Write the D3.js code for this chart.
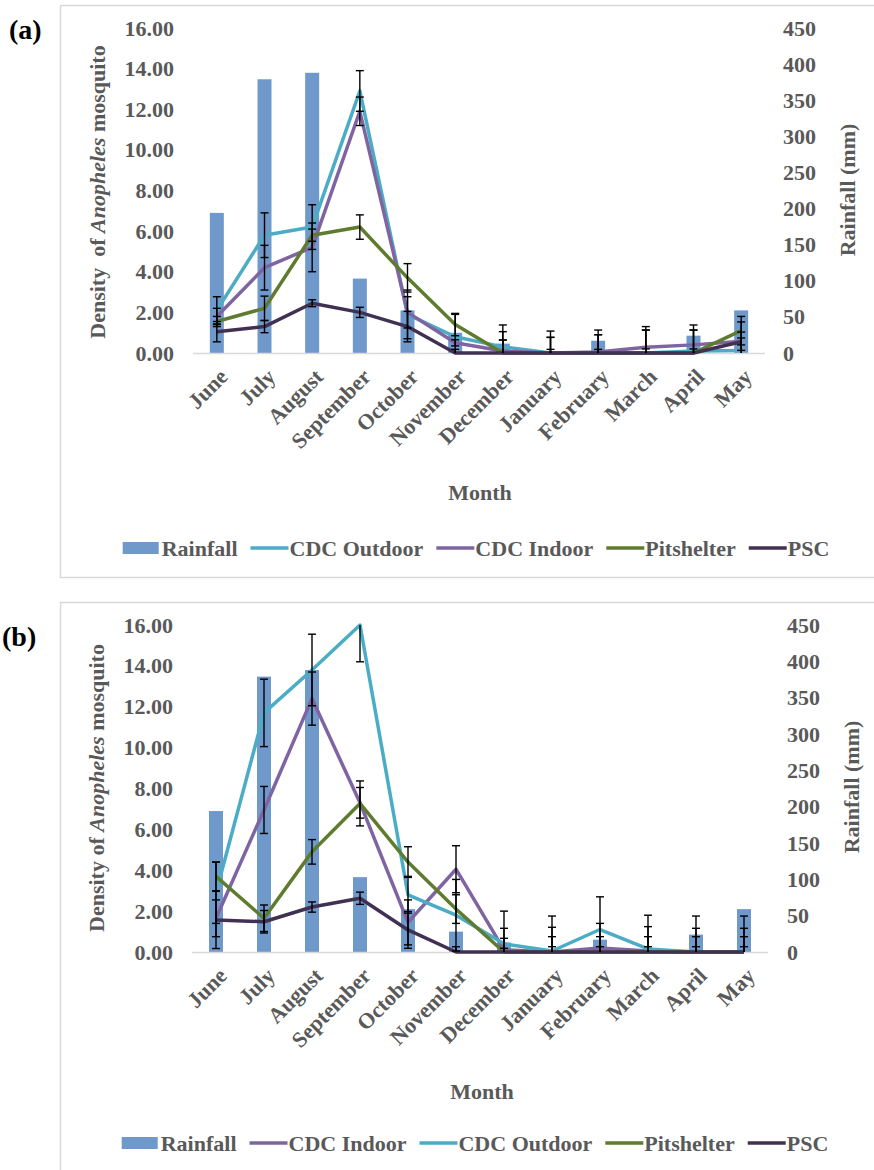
<!DOCTYPE html>
<html>
<head>
<meta charset="utf-8">
<script src="https://cdn.jsdelivr.net/npm/d3@7"></script>
<style>
  body { margin: 0; background: #fff; }
  svg text { font-family: "Liberation Serif", "Times New Roman", serif; font-weight: bold; }
</style>
</head>
<body>
<div id="chart"></div>
<script>
// months on the x axis
const months = ["June", "July", "August", "September", "October", "November",
  "December", "January", "February", "March", "April", "May"];

// monthly rainfall (mm), same in both panels
const rainfall = [194, 379, 388, 103, 59, 28, 13, 0, 17, 1, 24, 59];

// tick labels
const densityTicks = [0, 2, 4, 6, 8, 10, 12, 14, 16];
const rainTicks = [0, 50, 100, 150, 200, 250, 300, 350, 400, 450];

// panel (a) densities and error values
const outdoorA = [2.1, 5.8, 6.2, 12.9, 1.9, 0.8, 0.3, 0, 0, 0, 0.1, 0.12];
const indoorA = [1.8, 4.2, 5.2, 11.9, 2.0, 0.5, 0.1, 0, 0.05, 0.28, 0.4, 0.58];
const pitA = [1.55, 2.2, 5.8, 6.2, 3.7, 1.4, 0, 0, 0, 0, 0, 1.1];
const pscA = [1.05, 1.3, 2.45, 2.0, 1.3, 0, 0, 0, 0, 0, 0, 0.55];
const errOutdoorA = [0.67, 1.1, 1.1, 1.0, 1.2, 1.1, 1.08, 1.08, 1.13, 1.3, 1.28, 0.62];
const errIndoorA = [0.4, 1.1, 1.2, 0.7, 0.77, 0.15, 0.95, 0.77, 0.85, 0.85, 0.73, 0.45];
const errPitA = [0.25, 0.6, 0.3, 0.6, 0.7, 0.55, 0.64, 0.18, 0.18, 0.2, 0.2, 0.7];
const errPscA = [0.5, 0.3, 0.17, 0.25, 0.75, 0.18, 0.64, 0.77, 0.9, 1.13, 1.13, 0.98];

// panel (b) densities and error values
const outdoorB = [2.9, 11.7, 13.8, 16.0, 2.8, 1.8, 0.4, 0.05, 1.1, 0.15, 0, 0];
const indoorB = [1.65, 6.95, 12.4, 7.3, 1.45, 4.05, 0.1, 0, 0.2, 0.05, 0, 0];
const pitB = [3.7, 1.65, 4.9, 7.27, 4.4, 2.1, 0, 0, 0, 0, 0, 0];
const pscB = [1.57, 1.48, 2.2, 2.63, 1.08, 0, 0, 0, 0, 0, 0, 0];
const errOutdoorB = [1.5, 1.65, 1.75, 1.8, 0.9, 1.75, 1.6, 1.71, 1.6, 1.65, 1.76, 1.76];
const errIndoorB = [0.9, 1.15, 1.3, 0.75, 1.1, 1.15, 1.06, 1.21, 1.2, 1.19, 1.16, 1.16];
const errPitB = [0.7, 0.65, 0.6, 1.1, 0.75, 0.7, 0.67, 0.75, 0.75, 0.75, 0.75, 0.75];
const errPscB = [1.4, 0.55, 0.25, 0.3, 0.9, 0.26, 0.18, 0.26, 0.26, 0.26, 0.26, 0.26];

const COLORS = {
    rain: "#7099CB",
    outdoor: "#4BACC6",
    indoor: "#8064A2",
    pit: "#5E7B2E",
    psc: "#403152",
    text: "#595959",
    grid: "#D9D9D9"
};
const FONT = "22px";

const svg = d3.select("#chart").append("svg")
    .attr("width", 874)
    .attr("height", 1170)
    .attr("font-family", "Liberation Serif, Times New Roman, serif");

const drawPanel = (p) => {
    const g = svg.append("g");

    // light frame around the panel
    g.append("rect")
        .attr("x", 60.5).attr("y", p.frameY + 0.5)
        .attr("width", 900).attr("height", p.frameH)
        .attr("fill", "none").attr("stroke", COLORS.grid).attr("stroke-width", 1.5);

    g.append("text")
        .attr("x", p.tagX).attr("y", p.tagY)
        .style("font-size", "28px").attr("fill", "#000")
        .text(p.tag);

    const x = d3.scaleBand().domain(months).range([p.x0, p.x1]);
    const cx = (m) => x(m) + x.bandwidth() / 2;
    const yL = d3.scaleLinear().domain([0, 16]).range([p.yBase, p.yTop]);
    const yR = d3.scaleLinear().domain([0, 450]).range([p.yBase, p.yTop]);

    // rainfall bars
    g.selectAll(".bar")
        .data(months)
        .enter()
        .append("rect")
        .attr("x", (d) => cx(d) - 7)
        .attr("width", 14)
        .attr("y", (d, i) => yR(rainfall[i]))
        .attr("height", (d, i) => p.yBase - yR(rainfall[i]))
        .attr("fill", COLORS.rain);

    // baseline
    g.append("line")
        .attr("x1", p.x0).attr("x2", p.x1)
        .attr("y1", p.yBase + 0.5).attr("y2", p.yBase + 0.5)
        .attr("stroke", COLORS.grid).attr("stroke-width", 1.5);

    const line = d3.line()
        .x((d, i) => cx(months[i]))
        .y((d) => yL(d));

    p.series.forEach(s => {
        g.append("path")
            .datum(s.values)
            .attr("d", line)
            .attr("fill", "none")
            .attr("stroke", COLORS[s.key])
            .attr("stroke-width", 3.5)
            .attr("stroke-linejoin", "round");
    });

    // error bars, clipped to the axis range like Excel does
    p.series.forEach(s => {
        s.values.forEach((v, i) => {
            const e = s.err[i];
            const lo = Math.max(0, v - e);
            const hi = Math.min(16, v + e);
            const xm = cx(months[i]);
            g.append("line")
                .attr("x1", xm).attr("x2", xm)
                .attr("y1", yL(lo)).attr("y2", yL(hi))
                .attr("stroke", "#000").attr("stroke-width", 1.4);
            const caps = [];
            if (v + e <= 16) caps.push(hi);
            if (v - e >= 0) caps.push(lo);
            caps.forEach(c => {
                g.append("line")
                    .attr("x1", xm - 4).attr("x2", xm + 4)
                    .attr("y1", yL(c)).attr("y2", yL(c))
                    .attr("stroke", "#000").attr("stroke-width", 1.4);
            });
        });
    });

    // left axis
    const left = g.append("g")
        .attr("transform", `translate(${p.x0},0)`)
        .call(d3.axisLeft(yL).tickValues(densityTicks).tickFormat(d3.format(".2f")).tickSize(0).tickPadding(19));
    left.select(".domain").remove();
    left.selectAll("text")
        .style("font-size", FONT)
        .attr("fill", COLORS.text);

    // right axis
    const right = g.append("g")
        .attr("transform", `translate(${p.x1},0)`)
        .call(d3.axisRight(yR).tickValues(rainTicks).tickSize(0).tickPadding(p.rightPad));
    right.select(".domain").remove();
    right.selectAll("text")
        .style("font-size", FONT)
        .attr("fill", COLORS.text);

    // rotated month labels
    g.selectAll(".month")
        .data(months)
        .enter()
        .append("text")
        .attr("text-anchor", "end")
        .attr("transform", (d) => `translate(${cx(d) + 1},${p.yBase + 14}) rotate(-45)`)
        .attr("dy", "0.72em")
        .style("font-size", FONT)
        .attr("fill", COLORS.text)
        .text((d) => d);

    g.append("text")
        .attr("x", p.monthX).attr("y", p.monthY)
        .attr("text-anchor", "middle")
        .style("font-size", FONT)
        .attr("fill", COLORS.text)
        .text("Month");

    // left title with italic genus name
    const lt = g.append("text")
        .attr("transform", `translate(${p.leftTitleX},${p.leftTitleY}) rotate(-90)`)
        .attr("text-anchor", "middle")
        .style("font-size", FONT)
        .style("white-space", "pre")
        .attr("fill", COLORS.text);
    lt.append("tspan").text(p.densityLabel);
    lt.append("tspan").style("font-style", "italic").text("Anopheles");
    lt.append("tspan").text(" mosquito");

    g.append("text")
        .attr("transform", `translate(${p.rightTitleX},${p.rightTitleY}) rotate(-90)`)
        .attr("text-anchor", "middle")
        .style("font-size", FONT)
        .attr("fill", COLORS.text)
        .text("Rainfall (mm)");

    // legend, laid out left to right then centred
    const leg = g.append("g");
    let pos = 0;
    p.legend.forEach(item => {
        if (item.key === "rain") {
            leg.append("rect")
                .attr("x", pos).attr("y", -6)
                .attr("width", 36).attr("height", 12)
                .attr("fill", COLORS.rain);
        } else {
            leg.append("line")
                .attr("x1", pos).attr("x2", pos + 38)
                .attr("y1", 0).attr("y2", 0)
                .attr("stroke", COLORS[item.key]).attr("stroke-width", 3.5);
        }
        const t = leg.append("text")
            .attr("x", pos + 39).attr("y", 7.5)
            .style("font-size", FONT)
            .attr("fill", COLORS.text)
            .text(item.name);
        pos += 39 + t.node().getComputedTextLength() + 13;
    });
    const legW = pos - 13;
    leg.attr("transform", `translate(${p.legendCx - legW / 2},${p.legendY})`);
};

drawPanel({
    tag: "(a)", tagX: 9, tagY: 39,
    frameY: 5, frameH: 572,
    x0: 193, x1: 765, yTop: 28, yBase: 353, rightPad: 18,
    monthX: 480, monthY: 500,
    leftTitleX: 105, leftTitleY: 192, densityLabel: "Density  of ",
    rightTitleX: 855, rightTitleY: 190,
    legendCx: 476, legendY: 548,
    series: [
        { key: "outdoor", values: outdoorA, err: errOutdoorA },
        { key: "indoor", values: indoorA, err: errIndoorA },
        { key: "pit", values: pitA, err: errPitA },
        { key: "psc", values: pscA, err: errPscA }
    ],
    legend: [
        { key: "rain", name: "Rainfall" },
        { key: "outdoor", name: "CDC Outdoor" },
        { key: "indoor", name: "CDC Indoor" },
        { key: "pit", name: "Pitshelter" },
        { key: "psc", name: "PSC" }
    ]
});

drawPanel({
    tag: "(b)", tagX: 2, tagY: 646,
    frameY: 602, frameH: 600,
    x0: 192, x1: 768, yTop: 625, yBase: 952, rightPad: 19,
    monthX: 482, monthY: 1099,
    leftTitleX: 104, leftTitleY: 788, densityLabel: "Density of ",
    rightTitleX: 859, rightTitleY: 787,
    legendCx: 475, legendY: 1143,
    series: [
        { key: "indoor", values: indoorB, err: errIndoorB },
        { key: "outdoor", values: outdoorB, err: errOutdoorB },
        { key: "pit", values: pitB, err: errPitB },
        { key: "psc", values: pscB, err: errPscB }
    ],
    legend: [
        { key: "rain", name: "Rainfall" },
        { key: "indoor", name: "CDC Indoor" },
        { key: "outdoor", name: "CDC Outdoor" },
        { key: "pit", name: "Pitshelter" },
        { key: "psc", name: "PSC" }
    ]
});
</script>
</body>
</html>
